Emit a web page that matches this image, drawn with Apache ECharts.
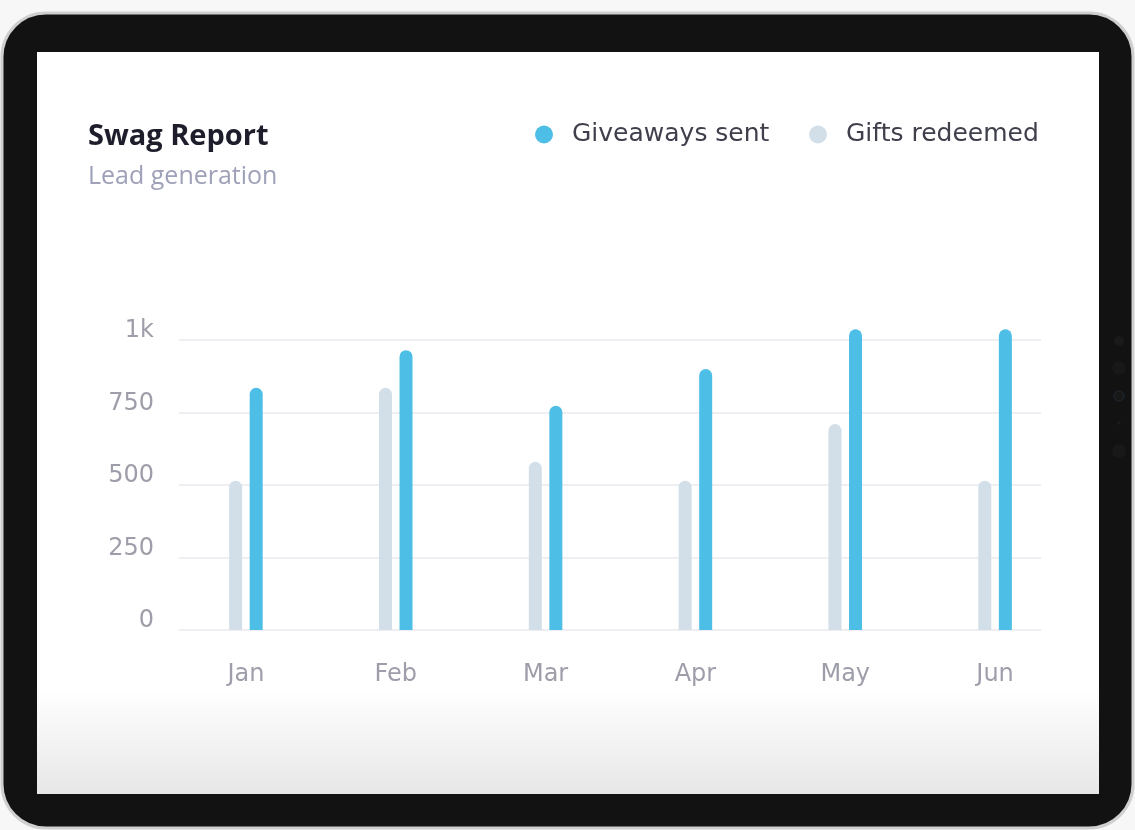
<!DOCTYPE html>
<html>
<head>
<meta charset="utf-8">
<script src="https://cdn.jsdelivr.net/npm/echarts@6/dist/echarts.min.js"></script>
<style>
html,body{margin:0;padding:0;background:#f6f6f6;}
#chart{width:1135px;height:830px;}
</style>
</head>
<body>
<div id="chart"></div>
<script>
const months = ['Jan','Feb','Mar','Apr','May','Jun'];
const giftsRedeemed = [515, 835, 580, 515, 710, 515];
const giveawaysSent = [835, 965, 773, 900, 1037, 1037];
const yTickValues = [0, 250, 500, 750, 1000];
const yTickLabels = ['0', '250', '500', '750', '1k'];

const chart = echarts.init(document.getElementById('chart'), null, {renderer: 'canvas'});

const labelColor = '#9e9eaa';
const axisFont = '"DejaVu Sans", sans-serif';
const legendText = {fontFamily: axisFont, fontSize: 25, color: '#3f404c', padding: [0, 0, 0, 14]};

const option = {
  backgroundColor: '#f7f7f7',
  animation: false,
  graphic: [
    { type: 'rect', z: -10, shape: {x: 2, y: 13, width: 1131, height: 815, r: 44},
      style: {fill: '#121212', stroke: '#cfcfcf', lineWidth: 3} },
    { type: 'rect', z: -9, shape: {x: 37, y: 52, width: 1062, height: 742},
      style: {fill: new echarts.graphic.LinearGradient(0, 0, 0, 1, [
        {offset: 0, color: '#ffffff'}, {offset: 0.86, color: '#ffffff'}, {offset: 1, color: '#e7e7e7'}])} },
    { type: 'circle', z: -8, shape: {cx: 1119, cy: 341, r: 5}, style: {fill: '#1a1a1a'} },
    { type: 'circle', z: -8, shape: {cx: 1119, cy: 368, r: 7}, style: {fill: '#181818'} },
    { type: 'circle', z: -8, shape: {cx: 1119, cy: 396, r: 5}, style: {fill: '#181818', stroke: '#1f2a36', lineWidth: 1} },
    { type: 'circle', z: -8, shape: {cx: 1119, cy: 423, r: 2}, style: {fill: '#1a1a1a'} },
    { type: 'circle', z: -8, shape: {cx: 1119, cy: 451, r: 7}, style: {fill: '#181818'} }
  ],
  title: {
    text: 'Swag Report',
    subtext: 'Lead generation',
    left: 83,
    top: 117,
    itemGap: 13,
    textStyle: {fontFamily: '"Open Sans", sans-serif', fontWeight: 'bold', fontSize: 29, color: '#1d1d2c'},
    subtextStyle: {fontFamily: '"Open Sans", sans-serif', fontSize: 25, color: '#9ea1b8'}
  },
  legend: [
    {data: ['Giveaways sent'], left: 535, top: 122, padding: 0, icon: 'circle',
     itemWidth: 18, itemHeight: 18, textStyle: legendText},
    {data: ['Gifts redeemed'], left: 809, top: 122, padding: 0, icon: 'circle',
     itemWidth: 18, itemHeight: 18, textStyle: legendText}
  ],
  grid: [
    {left: 179, right: 94, top: 340, bottom: 200},
    {left: 171, width: 899, top: 340, bottom: 200}
  ],
  xAxis: [
    {gridIndex: 0, type: 'category', data: months, show: false},
    {gridIndex: 1, type: 'category', data: months,
     axisLine: {show: false}, axisTick: {show: false}, splitLine: {show: false},
     axisLabel: {margin: 33, fontFamily: axisFont, fontSize: 24, color: labelColor}}
  ],
  yAxis: [
    {gridIndex: 0, type: 'value', min: 0, max: 1000, interval: 250,
     axisLine: {show: false}, axisTick: {show: false},
     splitLine: {lineStyle: {color: '#efeff3', width: 2}},
     axisLabel: {margin: 25, fontFamily: axisFont, fontSize: 24, color: labelColor,
       verticalAlign: 'bottom', lineHeight: 18,
       formatter: v => yTickLabels[yTickValues.indexOf(v)]}},
    {gridIndex: 1, type: 'value', min: 0, max: 1000, interval: 250, show: false,
     splitLine: {show: false}}
  ],
  series: [
    {name: 'Gifts redeemed', type: 'bar', xAxisIndex: 1, yAxisIndex: 1, data: giftsRedeemed,
     barWidth: 13, barGap: '58%', clip: false,
     itemStyle: {color: '#d2dfe8', borderRadius: [7, 7, 0, 0]}},
    {name: 'Giveaways sent', type: 'bar', xAxisIndex: 1, yAxisIndex: 1, data: giveawaysSent,
     barWidth: 13, barGap: '58%', clip: false,
     itemStyle: {color: '#4dbee6', borderRadius: [7, 7, 0, 0]}}
  ]
};
chart.setOption(option);
</script>
</body>
</html>
